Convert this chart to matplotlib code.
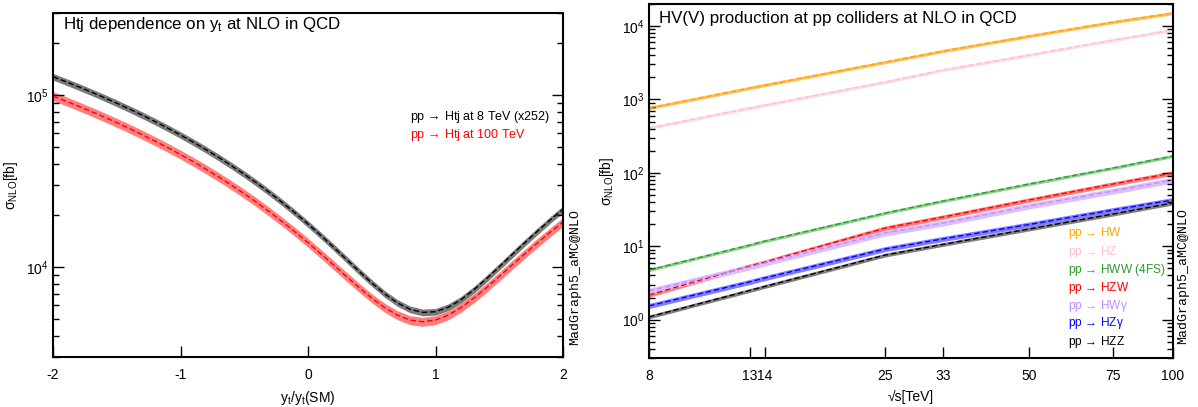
import numpy as np
import matplotlib
matplotlib.use('Agg')
import matplotlib.pyplot as plt
from matplotlib.ticker import LogLocator, NullLocator, NullFormatter, FixedLocator, FixedFormatter

plt.rcParams['font.family'] = ['Liberation Sans', 'DejaVu Sans']
plt.rcParams['mathtext.fontset'] = 'custom'
plt.rcParams['mathtext.rm'] = 'Liberation Sans'
plt.rcParams['mathtext.it'] = 'Liberation Sans:italic'

# ---- left panel: Htj vs top Yukawa
yt = [-2.0, -1.9, -1.8, -1.7, -1.6, -1.5, -1.4, -1.3, -1.2, -1.1, -1.0,
      -0.9, -0.8, -0.7, -0.6, -0.5, -0.4, -0.3, -0.2, -0.1, 0.0,
      0.1, 0.2, 0.3, 0.4, 0.5, 0.6, 0.7, 0.8, 0.9, 1.0,
      1.1, 1.2, 1.3, 1.4, 1.5, 1.6, 1.7, 1.8, 1.9, 2.0]
htj_8tev = [127900, 119690, 111760, 104120, 96760, 89690, 82900, 76400, 70180, 64250, 58600,
            53240, 48160, 43370, 38860, 34640, 30700, 27050, 23680, 20600, 17800,
            15290, 13060, 11120, 9460, 8090, 7000, 6200, 5680, 5450, 5500,
            5840, 6460, 7370, 8560, 10040, 11800, 13850, 16180, 18800, 21700]
htj_100tev = [98700, 92340, 86200, 80280, 74590, 69120, 63870, 58850, 54050, 49470, 45120,
              40990, 37080, 33400, 29940, 26700, 23690, 20890, 18330, 15980, 13860,
              11960, 10290, 8830, 7610, 6600, 5820, 5260, 4920, 4810, 4920,
              5250, 5810, 6590, 7590, 8820, 10270, 11940, 13840, 15960, 18300]
unc_8tev = 0.045
unc_100tev = 0.06

# ---- right panel: HV(V) vs sqrt(s)
sqrts = [8, 13, 14, 25, 33, 50, 75, 100]
sqrts_labels = ['8', '13', '14', '25', '33', '50', '75', '100']
xs_hw = [766, 1435, 1575, 3240, 4580, 7330, 11370, 15070]
xs_hz = [409, 766, 841, 1730, 2520, 4040, 6470, 8850]
xs_hww = [4.75, 10.4, 11.8, 28.4, 41.4, 70.6, 116.6, 169.9]
xs_hzw = [2.17, 5.38, 6.11, 17.7, 25.0, 42.7, 70.6, 99.8]
xs_hwa = [2.46, 5.22, 5.92, 15.2, 20.7, 35.4, 56.6, 80.0]
xs_hza = [1.54, 3.27, 3.70, 9.18, 12.6, 19.8, 31.2, 42.7]
xs_hzz = [1.09, 2.50, 2.84, 7.60, 10.6, 17.2, 27.5, 38.9]

procs = ['HW', 'HZ', 'HWW (4FS)', 'HZW', 'HW\u03b3', 'HZ\u03b3', 'HZZ']
series = [xs_hw, xs_hz, xs_hww, xs_hzw, xs_hwa, xs_hza, xs_hzz]
line_cols = ['#ffa500', '#ffc0cb', '#2e9a2e', '#ff0000', '#c58cff', '#0000ff', '#000000']
band_cols = ['#ffc060', '#ffdce2', '#8fd08f', '#ff8080', '#dcbfff', '#8080ff', '#808080']
uncs = [0.05, 0.05, 0.05, 0.07, 0.09, 0.08, 0.06]

W, H = 1198, 407
fig = plt.figure(figsize=(W / 100, H / 100), dpi=100)

def frac(x0, y0, x1, y1):
    return [x0 / W, 1 - y1 / H, (x1 - x0) / W, (y1 - y0) / H]

def style(ax):
    for s in ax.spines.values():
        s.set_linewidth(1.5)
    ax.tick_params(which='both', direction='in', left=True, right=True, top=False,
                   bottom=True, labelsize=10, width=1)
    ax.tick_params(which='major', length=8)
    ax.tick_params(which='minor', length=4)
    ax.tick_params(axis='x', pad=8)

arrow = '$\\,\\rightarrow\\,$'

# left
ax1 = fig.add_axes(frac(53, 13, 563, 357))
y8 = np.array(htj_8tev)
y100 = np.array(htj_100tev)
ax1.fill_between(yt, y8 * (1 - unc_8tev), y8 * (1 + unc_8tev), color='#7a7a7a', lw=0)
ax1.plot(yt, y8, color='black', ls=(0, (4, 2)), lw=1)
ax1.fill_between(yt, y100 * (1 - unc_100tev), y100 * (1 + unc_100tev), color='#ff7f7f', lw=0)
ax1.plot(yt, y100, color='red', ls=(0, (4, 2)), lw=1)
ax1.set_yscale('log')
ax1.set_xlim(-2, 2)
ax1.set_ylim(3000, 3e5)
ax1.set_xticks([-2, -1, 0, 1, 2])
ax1.set_xticklabels(['-2', '-1', '0', '1', '2'])
ax1.yaxis.set_major_locator(LogLocator(base=10))
ax1.yaxis.set_minor_locator(LogLocator(base=10, subs=np.arange(2, 10)))
ax1.yaxis.set_minor_formatter(NullFormatter())
style(ax1)
ax1.set_xlabel('y$_{\\mathrm{t}}$/y$_{\\mathrm{t}}$(SM)', fontsize=10, labelpad=5)
ax1.set_ylabel('\u03c3$_{\\mathrm{NLO}}$[fb]', fontsize=10, labelpad=4)

fig.text(63 / W, 1 - 24 / H, 'Htj dependence on y$_{\\mathrm{t}}$ at NLO in QCD', fontsize=12.2, va='center')
fig.text(410 / W, 1 - 117 / H, 'pp' + arrow + 'Htj at 8 TeV (x252)', fontsize=9, va='center', color='black')
fig.text(410 / W, 1 - 135 / H, 'pp' + arrow + 'Htj at 100 TeV', fontsize=9, va='center', color='red')
fig.text(575 / W, 1 - 277 / H, 'MadGraph5_aMC@NLO', rotation=90, family='Liberation Mono',
         fontsize=9.5, ha='center', va='center')

# right
ax2 = fig.add_axes(frac(649, 4, 1173, 358))
for vals, lc, bc, u in zip(series, line_cols, band_cols, uncs):
    v = np.array(vals, dtype=float)
    ax2.fill_between(sqrts, v * (1 - u), v * (1 + u), color=bc, lw=0)
    ax2.plot(sqrts, v, color=lc, ls=(0, (4, 2)), lw=1)
ax2.set_xscale('log')
ax2.set_yscale('log')
ax2.set_xlim(8, 100)
ax2.set_ylim(0.3, 2e4)
ax2.xaxis.set_major_locator(FixedLocator(sqrts))
ax2.xaxis.set_major_formatter(FixedFormatter(sqrts_labels))
ax2.xaxis.set_minor_locator(NullLocator())
ax2.yaxis.set_major_locator(LogLocator(base=10))
ax2.yaxis.set_minor_locator(LogLocator(base=10, subs=np.arange(2, 10)))
ax2.yaxis.set_minor_formatter(NullFormatter())
style(ax2)
ax2.set_xlabel('\u221as[TeV]', fontsize=10, labelpad=5)
ax2.set_ylabel('\u03c3$_{\\mathrm{NLO}}$[fb]', fontsize=10, labelpad=4)

fig.text(659 / W, 1 - 19 / H, 'HV(V) production at pp colliders at NLO in QCD', fontsize=12.2, va='center')
leg_y = [233, 252, 270, 288, 306, 323, 342]
for p, lc, yy in zip(procs, line_cols, leg_y):
    fig.text(1068 / W, 1 - yy / H, 'pp' + arrow + p, fontsize=8.6, va='center', color=lc)
fig.text(1183 / W, 1 - 276 / H, 'MadGraph5_aMC@NLO', rotation=90, family='Liberation Mono',
         fontsize=9.5, ha='center', va='center')

fig.savefig('out.png', dpi=100)
